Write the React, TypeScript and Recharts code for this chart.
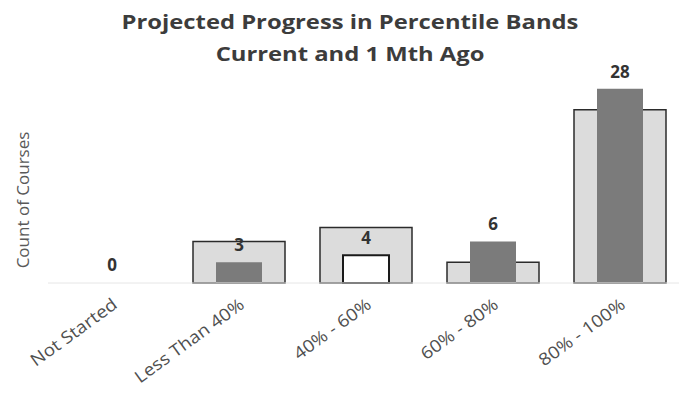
import { BarChart, Bar, XAxis, YAxis, Cell, LabelList } from "recharts";

const categories = ["Not Started", "Less Than 40%", "40% - 60%", "60% - 80%", "80% - 100%"];
const current = [0, 3, 4, 6, 28];
const monthAgo = [0, 6, 8, 3, 25];
const titleLines = ["Projected Progress in Percentile Bands", "Current and 1 Mth Ago"];
const yLabel = "Count of Courses";

const data = categories.map((name, i) => ({
  name,
  current: current[i],
  monthAgo: monthAgo[i],
}));

const font = "'Open Sans', sans-serif";

const AngledTick = (props: any) => {
  const { x, y, payload } = props;
  return (
    <g transform={`translate(${x + 7},${y + 16})`}>
      <text
        x={0}
        y={0}
        textAnchor="end"
        transform="rotate(-36) scale(1.12,1)"
        fontFamily={font}
        fontSize={17}
        fill="#4f4f4f"
      >
        {payload.value}
      </text>
    </g>
  );
};

const App = () => {
  return (
    <div
      style={{
        position: "absolute",
        left: 0,
        top: 0,
        width: 679,
        height: 396,
        overflow: "hidden",
        background: "#fff",
      }}
    >
      <BarChart
        width={685}
        height={396}
        data={data}
        margin={{ top: 75, right: 2, bottom: 0, left: 0 }}
      >
        <XAxis
          xAxisId="ago"
          dataKey="name"
          height={113}
          interval={0}
          tickLine={false}
          axisLine={{ stroke: "#e6e6e6" }}
          tick={<AngledTick />}
        />
        <XAxis xAxisId="now" dataKey="name" hide />
        <YAxis width={48} domain={[0, 30]} tick={false} axisLine={false} tickLine={false} />
        <Bar
          xAxisId="ago"
          dataKey="monthAgo"
          barSize={92}
          fill="#dcdcdc"
          stroke="#2b2b2b"
          strokeWidth={1.5}
          isAnimationActive={false}
        />
        <Bar
          xAxisId="now"
          dataKey="current"
          barSize={46}
          minPointSize={1}
          fill="#7b7b7b"
          isAnimationActive={false}
        >
          {data.map((d, i) =>
            d.current === 0 ? (
              <Cell key={d.name} fill="transparent" />
            ) : i === 2 ? (
              <Cell key={d.name} fill="#ffffff" stroke="#1a1a1a" strokeWidth={2} />
            ) : (
              <Cell key={d.name} fill="#7b7b7b" />
            )
          )}
          <LabelList
            dataKey="current"
            position="top"
            offset={11}
            fontFamily={font}
            fontSize={17}
            fontWeight={700}
            fill="#333333"
          />
        </Bar>
      </BarChart>
      <svg
        width={679}
        height={396}
        style={{ position: "absolute", left: 0, top: 0, pointerEvents: "none" }}
      >
        {titleLines.map((t, i) => (
          <text
            key={t}
            transform={`translate(350,${29 + i * 32}) scale(1.19,1)`}
            textAnchor="middle"
            fontFamily={font}
            fontSize={20}
            fontWeight={700}
            fill="#3c3c3c"
          >
            {t}
          </text>
        ))}
        <text
          transform="translate(29,200) rotate(-90)"
          textAnchor="middle"
          fontFamily={font}
          fontSize={17}
          fill="#595959"
        >
          {yLabel}
        </text>
      </svg>
    </div>
  );
};

export default App;
